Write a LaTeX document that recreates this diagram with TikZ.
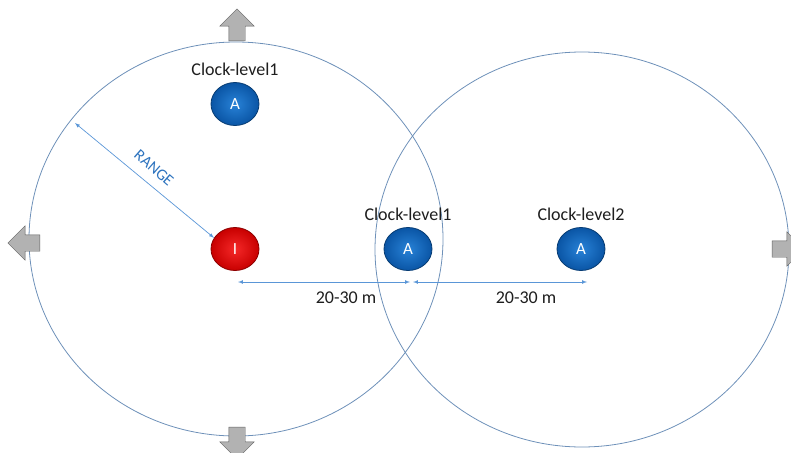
\documentclass[tikz,border=0pt]{standalone}
\usepackage{fontspec}
\setmainfont{Carlito}
\tikzset{>=latex}
\usetikzlibrary{positioning,shapes.geometric,shapes.arrows}
\definecolor{ringblue}{RGB}{110,145,185}
\definecolor{dimblue}{RGB}{90,150,215}
\definecolor{rangeblue}{RGB}{45,115,190}
\definecolor{txtgray}{RGB}{30,30,30}
\definecolor{ainner}{RGB}{40,130,215}
\definecolor{aouter}{RGB}{10,85,165}
\definecolor{iinner}{RGB}{245,40,40}
\definecolor{iouter}{RGB}{200,0,0}

\begin{document}
\begin{tikzpicture}[x=1pt, y=-1pt, font=\fontsize{18}{21}\selectfont, text=txtgray]
\tikzset{agent/.style={ellipse, minimum width=48pt, minimum height=43pt, inner sep=0pt, draw=aouter!70!black, line width=0.8pt, inner color=ainner, outer color=aouter, text=white, font=\fontsize{17}{20}\selectfont},
init/.style={agent, draw=iouter!70!black, inner color=iinner, outer color=iouter},
bigarrow/.style={single arrow, minimum height=32pt, inner xsep=0pt, inner ysep=8pt, single arrow head extend=9pt, draw=gray!75!black, top color=gray!60, middle color=gray!12, bottom color=gray!60},
ring/.style={draw=ringblue, line width=0.8pt},
dim/.style={<->, draw=dimblue, line width=0.7pt}}
\useasboundingbox (0,0) rectangle (791,452);
% range of each node
\draw[ring] (236,239) ellipse [x radius=207, y radius=197];
\draw[ring] (582,249.5) ellipse [x radius=207, y radius=197.5];
% outward arrows
\node[bigarrow, rotate=90] (up) at (237,29) {};
\node[bigarrow, rotate=180] (left) at (28,243) {};
\node[bigarrow] (right) at (784,249) {};
\node[bigarrow, rotate=-90] (down) at (237,439) {};
% nodes
\node[agent] (a1) at (235,104) {A};
\node[init] (i0) at (235,249) {I};
\node[agent] (a2) at (408,249) {A};
\node[agent] (a3) at (581,249) {A};
\node[above=3pt of a1] (t1) {Clock-level1};
\node[above=3pt of a2] (t2) {Clock-level1};
\node[above=3pt of a3] (t3) {Clock-level2};
% distances
\coordinate (d0) at (238,282);
\coordinate (d1) at (410,282);
\coordinate (d2) at (413,282);
\coordinate (d3) at (587,282);
\draw[dim] (d0) -- (d1);
\draw[dim] (d2) -- (d3);
\node (m1) at (346,298) {20-30 m};
\node (m2) at (526,298) {20-30 m};
\coordinate (r0) at (75,123);
\draw[dim] (r0) -- (i0.152);
\node[rotate=-41, text=rangeblue, font=\fontsize{16}{19}\selectfont, inner sep=1pt] (range) at (154,168) {RANGE};
\end{tikzpicture}
\end{document}
